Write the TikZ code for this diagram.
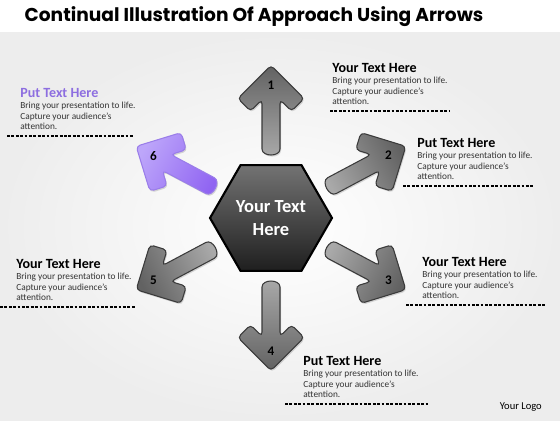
\documentclass[tikz,border=0pt]{standalone}
\usepackage{fontspec}
\setmainfont{Carlito}
\newfontfamily\titlefont{Poppins}
\usetikzlibrary{shapes.geometric,shadows}

\definecolor{bandgray}{HTML}{EDEDED}
\definecolor{arrowtip}{HTML}{626262}
\definecolor{arrowtail}{HTML}{A9A9A9}
\definecolor{arrowedge}{HTML}{3A3A3A}
\definecolor{violettip}{HTML}{BDA6FA}
\definecolor{violettail}{HTML}{9064F2}
\definecolor{violetedge}{HTML}{9A7DE9}
\definecolor{violettext}{HTML}{8D6EE0}

\tikzset{
  headtext/.style={anchor=base west, inner sep=0pt, font=\fontsize{8}{9}\selectfont\bfseries},
  bodytext/.style={anchor=north west, inner sep=0pt, align=left, text=black!80,
    font=\fontsize{5.3}{6.1}\selectfont},
  dashline/.style={line width=0.6pt, dash pattern=on 1.6pt off 0.9pt},
  numtext/.style={inner sep=0pt, font=\fontsize{7.5}{8}\selectfont\bfseries},
}

\begin{document}
\begin{tikzpicture}[x=0.02cm, y=-0.02cm]

    % Background: white title band and light grey slide
    \useasboundingbox (0,0) rectangle (560,420);
    \fill[white] (0,0) rectangle (560,32);
    \shade[inner color=white, outer color=bandgray] (0,32) rectangle (560,420);

    % Title
    \node[font=\titlefont\bfseries\fontsize{10.6}{12}\selectfont] (title) at (254,17)
        {Continual Illustration Of Approach Using Arrows};

    % The six arrows around the hub
    \foreach \ang/\num/\tipcol/\tailcol/\edgecol in {90/1/arrowtip/arrowtail/arrowedge,
        28/2/arrowtip/arrowtail/arrowedge, -28/3/arrowtip/arrowtail/arrowedge,
        -90/4/arrowtip/arrowtail/arrowedge, 208/5/arrowtip/arrowtail/arrowedge,
        152/6/violettip/violettail/violetedge} {
        \begin{scope}[shift={(271,218)}, rotate=\ang]
            \draw[\edgecol, line width=0.6pt, rounded corners=0.08cm,
                  top color=\tipcol, bottom color=\tailcol, shading angle=\ang-90,
                  drop shadow={shadow xshift=0.6pt, shadow yshift=-0.9pt, opacity=0.3}]
                (152.7,0) -- (119.5,33.2) -- (106.8,20.5) -- (118.3,9) -- (73,9)
                .. controls (61,9) and (61,-9) .. (73,-9)
                -- (118.3,-9) -- (106.8,-20.5) -- (119.5,-33.2) -- cycle;
            \node[numtext] (n\num) at (133,0) {\num};
        \end{scope}
    }

    % Hexagon in the middle
    \node[regular polygon, regular polygon sides=6, minimum size=2.44cm, inner sep=0pt,
          draw=black, line width=1.2pt, top color=black!55, bottom color=black!88,
          text=white, align=center, font=\fontsize{10.5}{13}\selectfont\bfseries]
        (hub) at (271,218) {Your Text\\Here};

    % Text blocks with their dashed rules
    \foreach \i/\x/\y/\dl/\dr/\hcol/\head in {1/332/72/330/449/black/Your Text Here,
        2/417/147/403/534/black/Put Text Here, 3/422/266/406/546/black/Your Text Here,
        4/303/365/285/428/black/Put Text Here, 5/16/268/0/135/black/Your Text Here,
        6/20/97/7/133/violettext/Put Text Here} {
        \node[headtext, text=\hcol] (head\i) at (\x,\y) {\head};
        \node[bodytext] (body\i) at (\x,\y+4.5)
            {Bring your presentation to life.\\Capture your audience’s\\attention.};
        \coordinate (rule\i a) at (\dl,\y+39);
        \coordinate (rule\i b) at (\dr,\y+39);
        \draw[dashline] (rule\i a) -- (rule\i b);
    }

    \node[anchor=base east, font=\fontsize{6}{7}\selectfont] (logo) at (548,409) {Your Logo};

\end{tikzpicture}
\end{document}
